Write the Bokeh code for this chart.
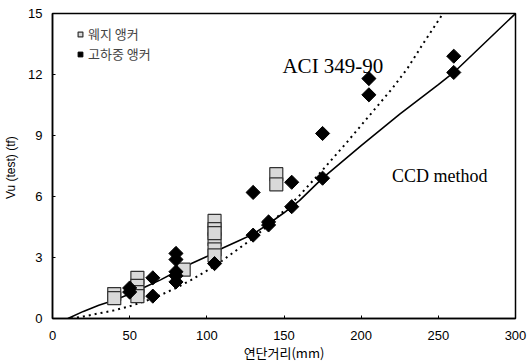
from bokeh.plotting import figure
from bokeh.models import Range1d, FixedTicker, Legend, LegendItem, Label
from bokeh.embed import file_html
from bokeh.resources import INLINE

# wedge anchors (웨지 앵커)
wedge_x = [40, 40, 55, 55, 55, 55, 85, 105, 105, 105, 105, 105, 105, 145, 145]
wedge_y = [1.2, 1.0, 2.0, 1.6, 1.3, 1.1, 2.4, 4.8, 4.4, 3.9, 3.4, 3.1, 4.2, 7.1, 6.6]

# high-load anchors (고하중 앵커)
heavy_x = [50, 50, 65, 65, 80, 80, 80, 80, 80, 105, 130, 130, 140, 140, 155, 155, 175, 175, 205, 205, 260, 260]
heavy_y = [1.3, 1.5, 2.0, 1.1, 3.2, 2.9, 2.3, 2.1, 1.8, 2.7, 4.1, 6.2, 4.6, 4.75, 5.5, 6.7, 6.9, 9.1, 11.8, 11.0, 12.9, 12.1]

# CCD method curve
ccd_x = [10, 20, 30, 40, 50, 60, 70, 80, 90, 100, 110, 120, 130, 140, 150, 160, 175, 200, 225, 250, 260, 300]
ccd_y = [0.0, 0.35, 0.65, 0.9, 1.2, 1.55, 1.9, 2.3, 2.7, 3.05, 3.45, 3.8, 4.15, 4.65, 5.2, 5.8, 6.9, 8.5, 10.05, 11.5, 12.1, 15.0]

# ACI 349-90 curve
aci_x = [12, 20, 30, 40, 50, 60, 70, 80, 90, 100, 110, 120, 130, 140, 150, 160, 175, 190, 200, 210, 220, 230, 240, 253]
aci_y = [0.0, 0.1, 0.25, 0.4, 0.6, 0.85, 1.15, 1.5, 1.9, 2.35, 2.85, 3.4, 3.95, 4.6, 5.3, 6.05, 7.3, 8.6, 9.5, 10.4, 11.3, 12.3, 13.5, 15.0]

x_ticks = [0, 50, 100, 150, 200, 250, 300]
y_ticks = [0, 3, 6, 9, 12, 15]

p = figure(width=532, height=364, output_backend="svg", toolbar_location=None,
           x_range=Range1d(0, 300), y_range=Range1d(0, 15),
           min_border_left=52, min_border_right=17, min_border_top=13, min_border_bottom=44)
p.xgrid.visible = False
p.ygrid.visible = False
p.outline_line_color = "black"
p.outline_line_width = 1.5
p.background_fill_color = "white"

for ax in (p.xaxis[0], p.yaxis[0]):
    ax.axis_line_color = "black"
    ax.axis_line_width = 1.5
    ax.major_tick_in = 3
    ax.major_tick_out = 0
    ax.minor_tick_line_color = None
    ax.major_label_text_font = "Liberation Sans"
    ax.major_label_text_font_size = "13px"
    ax.major_label_text_color = "black"
    ax.axis_label_text_font_style = "normal"
    ax.axis_label_text_color = "black"

p.xaxis[0].ticker = FixedTicker(ticks=x_ticks)
p.yaxis[0].ticker = FixedTicker(ticks=y_ticks)
p.xaxis[0].axis_label = "연단거리(mm)"
p.xaxis[0].axis_label_text_font = "Noto Sans CJK KR"
p.xaxis[0].axis_label_text_font_size = "13px"
p.xaxis[0].axis_label_standoff = 0
p.xaxis[0].major_label_standoff = 12
p.yaxis[0].axis_label = "Vu (test)  (tf)"
p.yaxis[0].axis_label_text_font = "Liberation Sans"
p.yaxis[0].axis_label_text_font_size = "12px"
p.yaxis[0].axis_label_standoff = 7
p.yaxis[0].major_label_standoff = 10

p.line(ccd_x, ccd_y, line_color="black", line_width=1.6)
p.line(aci_x, aci_y, line_color="black", line_width=2, line_dash="2 4")

sq = p.scatter(wedge_x, wedge_y, marker="square", size=13, fill_color="#d9d9d9",
               line_color="#333333", line_width=1.2)
dm = p.scatter(heavy_x, heavy_y, marker="square", angle=0.785398, size=10,
               fill_color="black", line_color="black")

legend = Legend(items=[LegendItem(label="웨지 앵커", renderers=[sq]),
                       LegendItem(label="고하중 앵커", renderers=[dm])],
                location=(22, 255), padding=0, margin=0, spacing=1,
                glyph_width=12, glyph_height=16, label_height=16, label_standoff=2,
                label_text_font="Noto Sans CJK KR", label_text_font_size="13px",
                background_fill_alpha=0, border_line_alpha=0)
p.add_layout(legend)

p.add_layout(Label(x=149, y=12.4, text="ACI 349-90", text_font="Liberation Serif",
                   text_font_size="21px", text_baseline="middle", text_color="black"))
p.add_layout(Label(x=220, y=7.0, text="CCD method", text_font="Liberation Serif",
                   text_font_size="18px", text_baseline="middle", text_color="black"))

open("out.html", "w").write(file_html(p, INLINE))
